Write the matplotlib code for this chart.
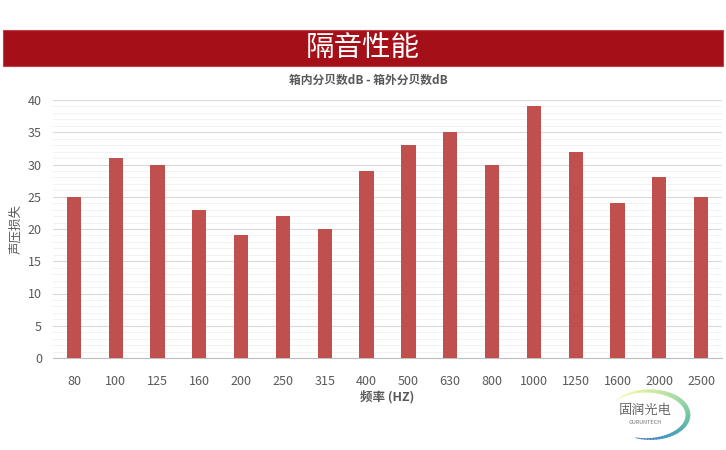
import matplotlib.pyplot as plt
import matplotlib.patches as patches
import numpy as np
from matplotlib.ticker import MultipleLocator

plt.rcParams['font.family'] = ['Noto Sans CJK SC', 'DejaVu Sans']

freqs = ['80', '100', '125', '160', '200', '250', '315', '400', '500', '630',
         '800', '1000', '1250', '1600', '2000', '2500']
loss = [25, 31, 30, 23, 19, 22, 20, 29, 33, 35, 30, 39, 32, 24, 28, 25]

W, H = 726, 450
fig = plt.figure(figsize=(W / 100, H / 100), dpi=100)

# red title banner
banner = patches.Rectangle((3 / W, 1 - 66 / H), 720 / W, 36 / H, transform=fig.transFigure,
                           facecolor='#A51018', edgecolor='#C04048', linewidth=0.8)
fig.patches.append(banner)
fig.text(363 / W, 1 - 48 / H, '隔音性能', color='white', fontsize=20.5, fontweight='medium',
         ha='center', va='center')
fig.text(368 / W, 1 - 80 / H, '箱内分贝数dB - 箱外分贝数dB', color='#595959', fontsize=8.5,
         fontweight='bold', ha='center', va='center')

ax = fig.add_axes([53 / W, 1 - 358 / H, 669 / W, 258 / H])
x = np.arange(len(freqs))
ax.bar(x, loss, width=0.34, color='#C0504D', zorder=3)
ax.set_xlim(-0.5, len(freqs) - 0.5)
ax.set_ylim(0, 40)
ax.yaxis.set_major_locator(MultipleLocator(5))
ax.yaxis.set_minor_locator(MultipleLocator(1))
ax.grid(axis='y', which='major', color='#D9D9D9', linewidth=0.8, zorder=0)
ax.grid(axis='y', which='minor', color='#F2F2F2', linewidth=0.7, zorder=0)
ax.set_xticks(x)
ax.set_xticklabels(freqs)
for s in ['top', 'right', 'left']:
    ax.spines[s].set_visible(False)
ax.spines['bottom'].set_color('#BFBFBF')
ax.tick_params(axis='both', which='both', length=0, colors='#595959', labelsize=9)
ax.tick_params(axis='x', pad=12)
ax.tick_params(axis='y', pad=8)
ax.set_ylabel('声压损失', color='#595959', fontsize=9, labelpad=4)
ax.set_xlabel('频率 (HZ)', color='#595959', fontsize=9, fontweight='bold', labelpad=2)

# logo
lax = fig.add_axes([600 / W, 1 - 445 / H, 100 / W, 60 / H])
lax.set_xlim(0, 100)
lax.set_ylim(0, 60)
lax.axis('off')
t = np.linspace(0, 1, 60)
cols = plt.cm.Spectral(np.linspace(0.55, 0.95, 60))
ang = np.linspace(np.pi * 0.8, -np.pi * 0.6, 60)
xs = 48 + 40 * np.cos(ang)
ys = 30 + 24 * np.sin(ang)
for i in range(59):
    lax.plot(xs[i:i + 2], ys[i:i + 2], color=cols[i], linewidth=0.5 + 3 * np.sin(np.pi * t[i]),
             solid_capstyle='round', alpha=0.8)
lax.text(45, 35, '固润光电', fontsize=9.5, color='#555555', ha='center', va='center',
         family=['Noto Serif CJK SC', 'Noto Sans CJK SC'])
lax.text(45, 22, 'GURUNTECH', fontsize=4, color='#777777', ha='center', va='center')

fig.savefig('out.png', dpi=100)
